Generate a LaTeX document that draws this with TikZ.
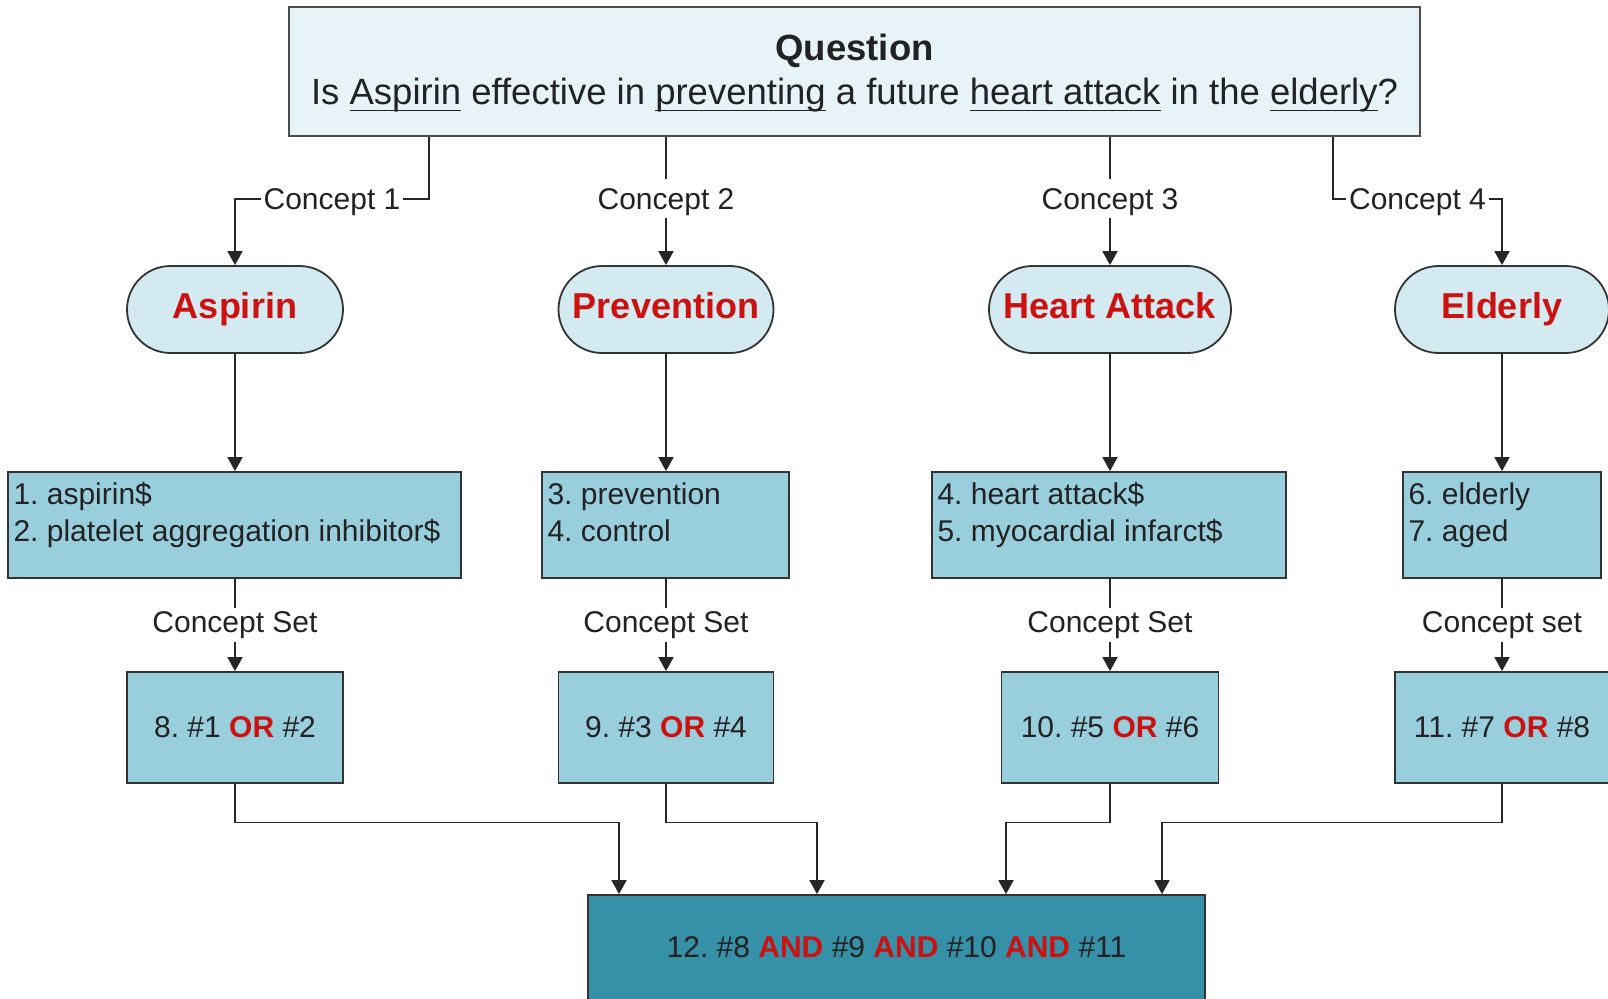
\documentclass[tikz,border=0pt]{standalone}
\usepackage{fontspec}
\setmainfont{Liberation Sans}
\usetikzlibrary{arrows.meta,calc}
\definecolor{qfill}{HTML}{E8F3F8}
\definecolor{pfill}{HTML}{D3EAF0}
\definecolor{bfill}{HTML}{99CFDD}
\definecolor{ffill}{HTML}{3590A8}
\definecolor{ored}{HTML}{CC1111}
\definecolor{txt}{HTML}{222222}
\newcommand\myul[1]{\setbox0\hbox{#1}\rlap{\rule[-3.2pt]{\wd0}{0.9pt}}\box0\relax}
\newcommand\kw[1]{\textcolor{ored}{\textbf{#1}}}
\frenchspacing
\begin{document}
\begin{tikzpicture}[x=0.5pt,y=-0.5pt,
  every node/.style={font=\fontsize{15}{18.5}\selectfont\frenchspacing, text=txt},
  arr/.style={draw=black!85, line width=0.9pt, -{Triangle[width=7.5pt,length=7pt]}},
  lbl/.style={fill=white, inner sep=1.5pt, text height=10.8pt, text depth=3pt},
  clbl/.style={fill=white, inner sep=1.5pt, text height=13.8pt, text depth=3pt},
  qbox/.style={draw=black!70, line width=1.3pt, fill=qfill, minimum width=565.5pt, minimum height=64.5pt, inner sep=0pt},
  qtext/.style={align=center, inner sep=0pt, font=\fontsize{18.25}{22}\selectfont\frenchspacing},
  pill/.style={draw=black!80, line width=0.9pt, fill=pfill, minimum height=43.5pt, rounded corners=21.75pt, inner sep=0pt, font=\fontsize{18}{22}\selectfont\bfseries, text=ored, text height=13pt, text depth=3.8pt},
  lbox/.style={draw=black!80, line width=0.9pt, fill=bfill, minimum height=53pt, inner sep=0pt},
  obox/.style={draw=black!80, line width=0.9pt, fill=bfill, minimum height=55.5pt, inner sep=0pt},
  fbox/.style={draw=black!80, line width=0.9pt, fill=ffill, minimum width=308.5pt, minimum height=52.5pt, inner sep=0pt},
  ltext/.style={anchor=north west, align=left, inner sep=0pt}
]
\useasboundingbox (0,0) rectangle (1608,998);

% question
\node[qbox] (q) at (854.5,71.5) {};
\node[qtext] (qt) at (854.5,73.5) {\textbf{Question}\\Is \myul{Aspirin} effective in \myul{preventing} a future \myul{heart attack} in the \myul{elderly}?};

% concepts
\node[pill, minimum width=108pt] (s1) at (235,309.5) {Aspirin};
\node[pill, minimum width=107.5pt] (s2) at (666,309.5) {Prevention};
\node[pill, minimum width=121pt] (s3) at (1110,309.5) {Heart Attack};
\node[pill, minimum width=107pt] (s4) at (1502,309.5) {Elderly};

\coordinate (k1) at (429,199);
\coordinate (k4) at (1333,199);
\draw[arr] (q.south -| k1) -- (k1) -| node[clbl,pos=0.25]{Concept 1} (s1.north);
\draw[arr] (q.south -| s2) -- node[clbl,pos=0.48]{Concept 2} (s2.north);
\draw[arr] (q.south -| s3) -- node[clbl,pos=0.48]{Concept 3} (s3.north);
\draw[arr] (q.south -| k4) -- (k4) -| node[clbl,pos=0.25]{Concept 4} (s4.north);

% term lists
\node[lbox, minimum width=226.5pt] (l1) at (234.5,525) {};
\node[lbox, minimum width=123.5pt] (l2) at (665.5,525) {};
\node[lbox, minimum width=177pt] (l3) at (1109,525) {};
\node[lbox, minimum width=99pt] (l4) at (1502,525) {};
\node[ltext] (l1t) at ([xshift=3pt,yshift=-5.5pt]l1.north west) {1. aspirin\$\\2. platelet aggregation inhibitor\$};
\node[ltext] (l2t) at ([xshift=3pt,yshift=-5.5pt]l2.north west) {3. prevention\\4. control};
\node[ltext] (l3t) at ([xshift=3pt,yshift=-5.5pt]l3.north west) {4. heart attack\$\\5. myocardial infarct\$};
\node[ltext] (l4t) at ([xshift=3pt,yshift=-5.5pt]l4.north west) {6. elderly\\7. aged};

\draw[arr] (s1.south) -- (s1.south |- l1.north);
\draw[arr] (s2.south) -- (s2.south |- l2.north);
\draw[arr] (s3.south) -- (s3.south |- l3.north);
\draw[arr] (s4.south) -- (s4.south |- l4.north);

% OR sets
\node[obox, minimum width=108pt] (o1) at (235,727.5) {8. \#1 \kw{OR} \#2};
\node[obox, minimum width=107.5pt] (o2) at (666,727.5) {9. \#3 \kw{OR} \#4};
\node[obox, minimum width=108.5pt] (o3) at (1110,727.5) {10. \#5 \kw{OR} \#6};
\node[obox, minimum width=107pt] (o4) at (1502,727.5) {11. \#7 \kw{OR} \#8};

\draw[arr] (l1.south -| o1) -- node[lbl]{Concept Set} (o1.north);
\draw[arr] (l2.south -| o2) -- node[lbl]{Concept Set} (o2.north);
\draw[arr] (l3.south -| o3) -- node[lbl]{Concept Set} (o3.north);
\draw[arr] (l4.south -| o4) -- node[lbl]{Concept set} (o4.north);

% final
\node[fbox] (f) at (896.5,947.5) {12. \#8 \kw{AND} \#9 \kw{AND} \#10 \kw{AND} \#11};
\coordinate (j1) at (619,822.5);
\coordinate (j2) at (817,822.5);
\coordinate (j3) at (1006,822.5);
\coordinate (j4) at (1162,822.5);
\draw[arr] (o1.south) |- (j1) -- (j1 |- f.north);
\draw[arr] (o2.south) |- (j2) -- (j2 |- f.north);
\draw[arr] (o3.south) |- (j3) -- (j3 |- f.north);
\draw[arr] (o4.south) |- (j4) -- (j4 |- f.north);
\end{tikzpicture}
\end{document}
